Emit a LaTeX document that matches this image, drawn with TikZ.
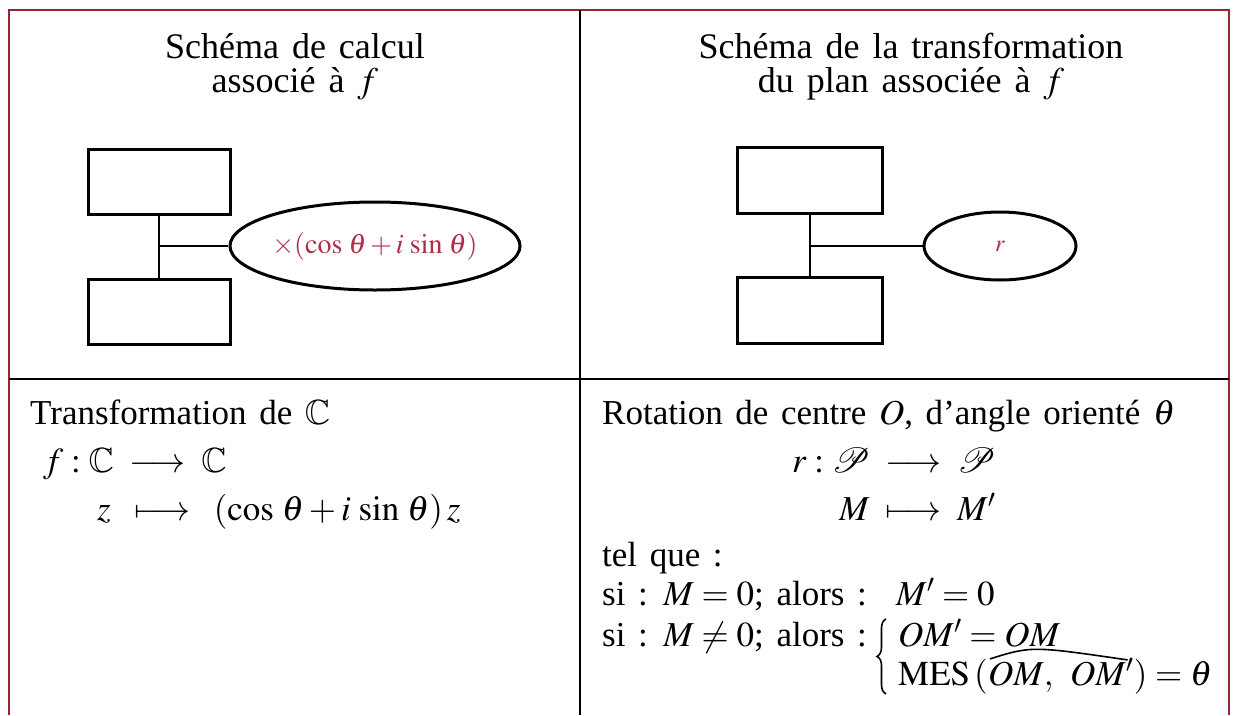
\documentclass[tikz,border=0pt]{standalone}
\usepackage{mathptmx}
\usepackage{amssymb}
\usepackage{mathrsfs}
\usepackage[no-math]{fontspec}
\setmainfont{Liberation Serif}
\definecolor{framered}{RGB}{150, 35, 55}
\definecolor{opred}{RGB}{175, 45, 70}
\usetikzlibrary{positioning, calc, shapes.geometric, decorations.pathreplacing}
\newcommand{\planP}{\scalebox{1.4}{$\mathscr{P}$}}
\newcommand{\wsp}{\spaceskip=.36em plus .1em minus .05em\relax}

\begin{document}
\begin{tikzpicture}[x=1pt, y=-1pt,
        heading/.style={anchor=base, inner sep=0pt, font=\fontsize{36}{40}\selectfont\wsp},
        txt/.style={anchor=base west, inner sep=0pt, font=\fontsize{35}{40}\selectfont\wsp},
        blankbox/.style={draw, rectangle, line width=3pt, minimum width=142pt, minimum height=65pt},
        opoval/.style={draw, ellipse, line width=3pt, inner sep=0pt, text=opred},
        link/.style={line width=2.8pt},
        rule/.style={line width=2.3pt}]
        \useasboundingbox (0,0) rectangle (1239,715);

        % Frame and dividers
        \draw[rule, framered] (9,715) |- (1229,10) -- (1229,715);
        \draw[rule] (580,10) -- (580,715);
        \draw[rule] (9,379) -- (1229,379);

        % Titles
        \node[heading] (calcT1) at (295,58) {Schéma de calcul};
        \node[heading] (calcT2) at (295,92) {associé à $f$};
        \node[heading] (planT1) at (911,58) {Schéma de la transformation};
        \node[heading] (planT2) at (911,92) {du plan associée à $f$};

        % Calculation scheme
        \node[blankbox] (calcIn) at (159,182) {};
        \node[blankbox] (calcOut) at (159,312) {};
        \node[opoval, minimum width=245pt, minimum height=88pt, font=\fontsize{28}{32}\selectfont] (calcOp) at (375,246)
            {$\times(\cos\,\theta+i\,\sin\,\theta)$};
        \coordinate (calcJ) at (calcIn.south |- calcOp.west);
        \draw[link] (calcIn) -- (calcOut);
        \draw[link] (calcJ) -- (calcOp);

        % Plane transformation scheme
        \node[blankbox, minimum width=145pt, minimum height=66pt] (planIn) at (810,180) {};
        \node[blankbox, minimum width=145pt, minimum height=66pt] (planOut) at (810,310) {};
        \node[opoval, minimum width=152pt, minimum height=68pt, font=\fontsize{24}{28}\selectfont] (planOp) at (1000,246) {$r$};
        \coordinate (planJ) at (planIn.south |- planOp.west);
        \draw[link] (planIn) -- (planOut);
        \draw[link] (planJ) -- (planOp);

        % Transformation of C
        \node[txt] (trC) at (30,424) {Transformation de $\mathbb{C}$};
        \node[txt] (mapF) at (43,472) {$f:\mathbb{C}\;\longrightarrow\;\mathbb{C}$};
        \node[txt] (mapZ) at (97,520) {$z\;\;\longmapsto\;\;(\cos\,\theta+i\,\sin\,\theta)\,z$};

        % Rotation
        \node[txt] (rotT) at (602,424) {Rotation de centre $O$, d'angle orienté $\theta$};
        \node[txt] (mapR) at (792,472) {$r:\planP\;\longrightarrow\;\planP$};
        \node[txt] (mapM) at (839,520) {$M\;\longmapsto\;M'$};
        \node[txt] (telQ) at (602,566) {tel que :};
        \node[txt] (siA) at (602,605) {si : $M=0$; alors :};
        \node[txt] (siAres) at (896,605) {$M'=0$};
        \node[txt] (siB) at (602,646) {si : $M\neq0$; alors :};
        \node[txt] (eqOM) at (898,646) {$OM'=OM$};
        \node[txt] (mesA) at (898,685) {$\mathrm{MES}\,($};
        \node[txt, base right=0pt of mesA] (mesB) {$OM,\ OM'$};
        \node[txt, base right=0pt of mesB] (mesC) {$)=\theta$};

        % Brace and angle arc
        \coordinate (brcTop) at ($(eqOM.north west)+(-12,0)$);
        \coordinate (brcBot) at ($(mesA.south west)+(-12,0)$);
        \draw[line width=1.6pt, decorate, decoration={brace, amplitude=9pt}] (brcBot) -- (brcTop);
        \draw[line width=1.6pt] ($(mesB.north west)+(2,1)$)
            .. controls ($(mesB.north west)!0.3!(mesB.north east)+(0,-12)$) .. ($(mesB.north east)+(-6,2)$);
\end{tikzpicture}
\end{document}
